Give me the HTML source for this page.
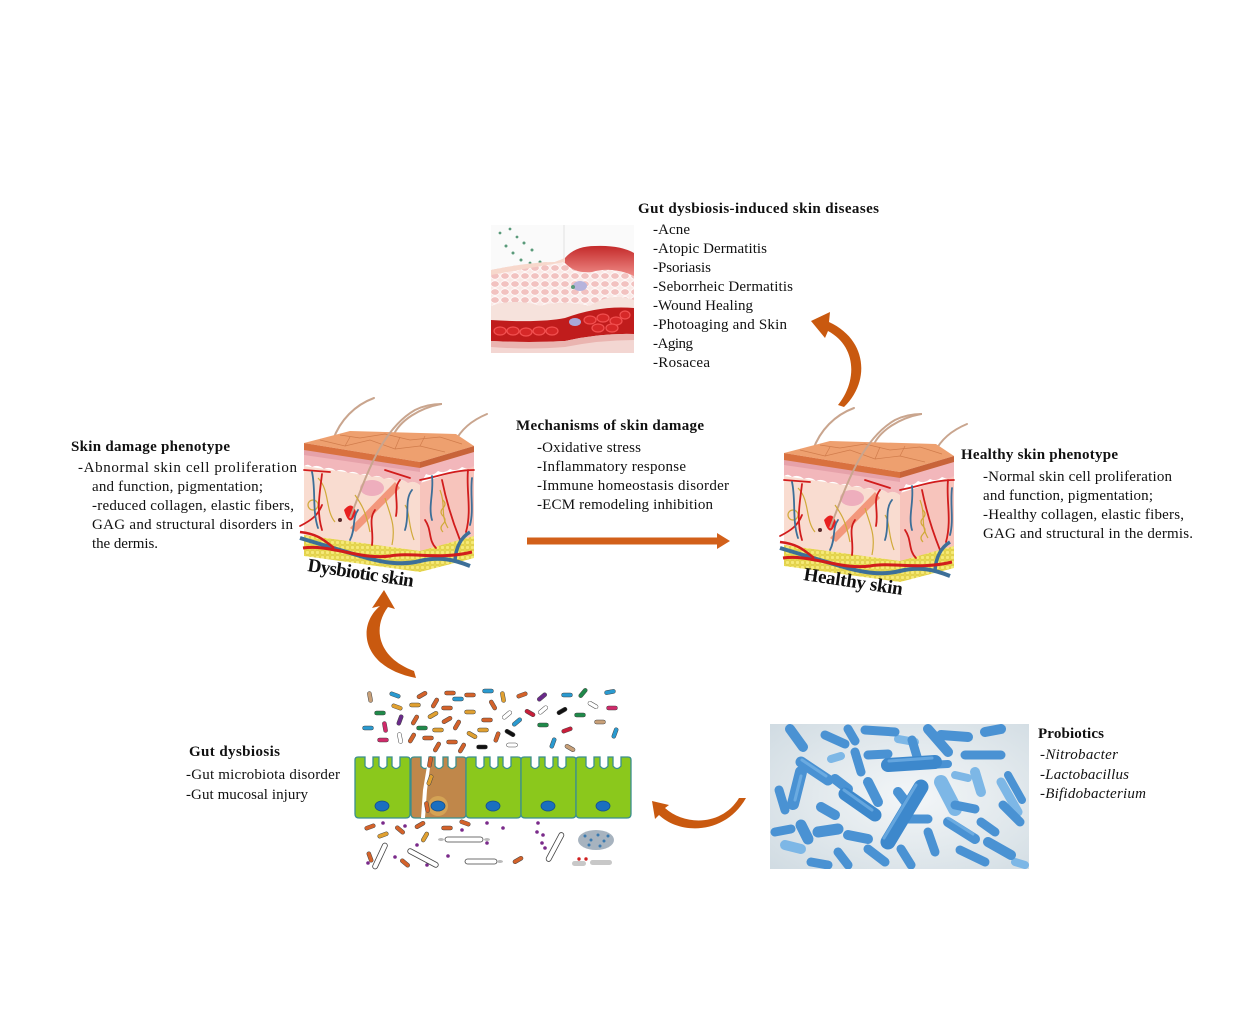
<!DOCTYPE html>
<html><head><meta charset="utf-8"><style>
html,body{margin:0;padding:0;background:#fff;}
svg{display:block;}
text{font-family:"Liberation Serif","Times New Roman",serif;fill:#111;}
.b{font-weight:bold;}
</style></head><body>
<svg width="1260" height="1032" viewBox="0 0 1260 1032" xmlns="http://www.w3.org/2000/svg">
<defs>
  <pattern id="cells" width="10" height="8" patternUnits="userSpaceOnUse">
    <rect width="10" height="8" fill="#fbe9e6"/>
    <ellipse cx="5" cy="4" rx="4.3" ry="3.3" fill="#f2c2c0" stroke="#fff" stroke-width="0.8"/>
  </pattern>
  <pattern id="fat" width="5" height="5" patternUnits="userSpaceOnUse">
    <rect width="5" height="5" fill="#e8d850"/>
    <circle cx="2.5" cy="2.5" r="2" fill="#f6ea78" stroke="#d2c03a" stroke-width="0.4"/>
  </pattern>
  <radialGradient id="probg" cx="0.55" cy="0.5" r="0.75">
    <stop offset="0" stop-color="#f3f6f8"/>
    <stop offset="0.5" stop-color="#e2e9ed"/>
    <stop offset="1" stop-color="#d0dbe2"/>
  </radialGradient>
  <linearGradient id="lesion" x1="0" y1="0" x2="0" y2="1">
    <stop offset="0" stop-color="#c42a2a"/>
    <stop offset="1" stop-color="#ee8a86"/>
  </linearGradient>
  <clipPath id="topclip"><rect x="491" y="225" width="143" height="128"/></clipPath>
  <clipPath id="proclip"><rect x="770" y="724" width="259" height="145"/></clipPath>
  <path id="cell" d="M0,57 L0,3 Q0,0 3,0 L10,0 L10,9 Q14,14 18,9 L18,0 L24,0 L24,9 Q28,14 32,9 L32,0 L37,0 L37,9 Q41,14 45,9 L45,0 L52,0 Q55,0 55,3 L55,57 Q55,61 51,61 L4,61 Q0,61 0,57Z"/>

  <g id="skin">
    <g fill="none" stroke="#c9a58e" stroke-width="2" stroke-linecap="round">
      <path d="M333,440 C340,420 355,405 374,398"/>
      <path d="M393,436 C400,420 420,408 441,404"/>
      <path d="M455,442 C462,427 475,419 487,414"/>
    </g>
    <polygon points="304,466 420,483 420,553 304,537" fill="#f9dcd0"/>
    <polygon points="420,483 474,466 474,538 420,553" fill="#f7c4bc"/>
    <polygon points="304,535 420,551 420,572 304,556" fill="url(#fat)"/>
    <polygon points="420,551 474,536 474,558 420,572" fill="url(#fat)"/>
    <path d="M304,449 L420,467 L474,451 L474,466 Q468,470 462,467 Q456,472 450,469 Q444,474 438,471 Q432,477 426,474 L420,485 Q414,480 408,483 Q402,478 396,481 Q390,476 384,479 Q378,474 372,477 Q366,472 360,475 Q354,470 348,473 Q342,468 336,471 Q330,466 324,469 Q318,464 312,467 Q308,463 304,466 Z" fill="#f2b7bb"/>
    <polygon points="304,449 420,467 420,472 304,455" fill="#e6a2aa"/>
    <polygon points="304,443 350,431 456,434 474,446 420,462" fill="#eea06f"/>
    <polygon points="304,443 420,462 420,468 304,450" fill="#d9713f"/>
    <polygon points="420,462 474,446 474,452 420,468" fill="#c8643a"/>
    <g fill="none" stroke="#d07c4c" stroke-width="0.7">
      <path d="M320,440 L345,446 L370,440 L395,449 L420,446 L445,452"/>
      <path d="M340,435 L360,438 L385,434 L410,440 L440,437 L462,444"/>
      <path d="M345,446 L350,437 M395,449 L400,437 M420,446 L425,436"/>
    </g>
    <ellipse cx="372" cy="488" rx="12" ry="8" fill="#eeaebd"/>
    <path d="M350,528 L395,482 L400,488 L356,532 Z" fill="#f08060" opacity="0.75"/>
    <path d="M344,510 Q350,530 356,512 Q352,500 344,510Z" fill="#e82020"/>
    <circle cx="340" cy="520" r="2" fill="#5a2a2a"/>
    <path d="M350,518 C365,480 380,430 415,410 C425,405 435,404 442,404" fill="none" stroke="#c9a58e" stroke-width="2"/>
    <g fill="none" stroke="#d0aa3a" stroke-width="1.2">
      <path d="M318,478 C330,490 325,510 335,522"/>
      <path d="M355,495 C362,505 366,512 370,532"/>
      <path d="M385,498 C390,515 396,525 392,545"/>
      <path d="M440,490 C446,505 440,515 448,528"/>
      <path d="M405,505 C410,512 408,525 414,540"/>
      <circle cx="313" cy="505" r="5"/>
      <path d="M443,500 q4,4 0,8 q-4,4 0,8 q4,4 0,8 q-4,4 0,8"/>
    </g>
    <g fill="none" stroke="#d11c1c" stroke-width="1.8" stroke-linecap="round">
      <path d="M304,470 L330,472"/>
      <path d="M322,474 C320,492 316,510 322,530"/>
      <path d="M300,526 C312,520 318,515 322,505"/>
      <path d="M420,480 C440,476 455,470 474,470"/>
      <path d="M442,480 C446,500 452,520 460,540"/>
      <path d="M468,470 C466,490 472,510 466,532"/>
      <path d="M396,516 C399,500 392,490 400,480"/>
      <path d="M372,545 C374,530 368,520 375,510"/>
      <path d="M425,520 C432,530 428,540 436,548"/>
      <path d="M385,470 L410,478"/>
    </g>
    <g fill="none" stroke="#3d6f98" stroke-width="1.8" stroke-linecap="round">
      <path d="M312,472 C316,490 312,510 318,528"/>
      <path d="M405,530 C410,515 404,500 412,490"/>
      <path d="M432,476 C434,492 428,506 432,520"/>
      <path d="M472,478 C470,495 474,510 470,525"/>
      <path d="M350,540 C356,528 352,518 358,510"/>
    </g>
    <path d="M300,538 C320,544 340,550 360,556 C380,562 400,566 420,561 C440,556 455,560 470,566" fill="none" stroke="#3d6f98" stroke-width="4"/>
    <path d="M455,560 C456,548 460,538 470,532" fill="none" stroke="#3d6f98" stroke-width="3.5"/>
    <path d="M303,548 C330,544 360,560 390,556 C412,552 440,560 472,552" fill="none" stroke="#d11c1c" stroke-width="3"/>
    <path d="M300,532 C318,534 324,540 334,548" fill="none" stroke="#d11c1c" stroke-width="2.5"/>
  </g>
</defs>

<rect width="1260" height="1032" fill="#fff"/>

<!-- ============ TOP IMAGE ============ -->
<g clip-path="url(#topclip)">
  <rect x="491" y="225" width="143" height="128" fill="#fafafa"/>
  <line x1="564" y1="225" x2="564" y2="353" stroke="#e2e2e2" stroke-width="1"/>
  <g fill="#5a9a7a">
    <circle cx="500" cy="233" r="1.4"/><circle cx="510" cy="229" r="1.4"/><circle cx="517" cy="237" r="1.4"/>
    <circle cx="506" cy="246" r="1.5"/><circle cx="524" cy="243" r="1.5"/><circle cx="513" cy="253" r="1.5"/>
    <circle cx="532" cy="250" r="1.5"/><circle cx="521" cy="260" r="1.5"/><circle cx="540" cy="262" r="1.5"/>
    <circle cx="530" cy="263" r="1.4"/><circle cx="546" cy="269" r="1.4"/><circle cx="555" cy="272" r="1.4"/>
    <circle cx="549" cy="277" r="1.4"/><circle cx="537" cy="272" r="1.4"/><circle cx="560" cy="279" r="1.4"/>
  </g>
  <rect x="491" y="290" width="143" height="63" fill="#f3d6d2"/>
  <path d="M491,270 Q530,262 555,262 L565,258 Q575,248 590,248 Q615,245 634,255 L634,300 Q610,292 590,306 Q560,300 540,306 Q515,298 491,306 Z" fill="url(#cells)"/>
  <path d="M491,270 Q530,262 555,262 L565,258 L565,262 Q540,266 491,275 Z" fill="#f7d8cc"/>
  <path d="M565,258 Q575,246 595,246 Q620,245 634,253 L634,276 Q612,266 592,272 Q575,274 565,263 Z" fill="url(#lesion)"/>
  <ellipse cx="580" cy="286" rx="7" ry="5" fill="#b6b4dc"/>
  <circle cx="573" cy="287" r="2" fill="#5a9a7a"/>
  <path d="M491,306 Q515,298 540,306 Q560,300 590,306 Q610,292 634,300 L634,310 Q600,306 565,320 Q540,323 491,321 Z" fill="#f6e2dc"/>
  <path d="M491,320 Q540,323 565,318 Q600,305 634,308 L634,334 Q600,333 565,341 Q530,343 491,341 Z" fill="#c01c1c"/>
  <g fill="#d62828" stroke="#f25050" stroke-width="1.2">
    <ellipse cx="500" cy="331" rx="6" ry="4"/><ellipse cx="513" cy="331" rx="6" ry="4"/>
    <ellipse cx="526" cy="332" rx="6" ry="4"/><ellipse cx="539" cy="331" rx="6" ry="4"/>
    <ellipse cx="552" cy="331" rx="6" ry="4"/><ellipse cx="590" cy="320" rx="6" ry="4"/>
    <ellipse cx="603" cy="318" rx="6" ry="4"/><ellipse cx="616" cy="321" rx="6" ry="4"/>
    <ellipse cx="625" cy="315" rx="5" ry="4"/><ellipse cx="598" cy="328" rx="6" ry="4"/>
    <ellipse cx="612" cy="328" rx="6" ry="4"/>
  </g>
  <ellipse cx="575" cy="322" rx="6" ry="4" fill="#a8a8d8"/>
  <path d="M491,341 Q530,343 565,341 Q600,333 634,334 L634,340 Q600,340 565,347 Q530,350 491,347Z" fill="#eab4b0"/>
</g>

<text class="b" x="638" y="213" font-size="15" textLength="241" lengthAdjust="spacing">Gut dysbiosis-induced skin diseases</text>
<g font-size="15">
<text x="653" y="234" textLength="37" lengthAdjust="spacing">-Acne</text>
<text x="653" y="253" textLength="114" lengthAdjust="spacing">-Atopic Dermatitis</text>
<text x="653" y="272" textLength="58" lengthAdjust="spacing">-Psoriasis</text>
<text x="653" y="291" textLength="140" lengthAdjust="spacing">-Seborrheic Dermatitis</text>
<text x="653" y="310" textLength="100" lengthAdjust="spacing">-Wound Healing</text>
<text x="653" y="329" textLength="134" lengthAdjust="spacing">-Photoaging and Skin</text>
<text x="653" y="348" textLength="40" lengthAdjust="spacing">-Aging</text>
<text x="653" y="367" textLength="57" lengthAdjust="spacing">-Rosacea</text>
</g>

<path d="M811,321 L830,312 L829,322 C868,340 870,382 844,407 L838,405 C858,380 856,346 828,331 L825,338 Z" fill="#c9590f"/>

<use href="#skin"/>
<use href="#skin" transform="translate(480,10)"/>

<text class="b" x="307" y="571" font-size="19" transform="rotate(8.5 307 571)" textLength="107" lengthAdjust="spacing">Dysbiotic skin</text>
<text class="b" x="803" y="580" font-size="19" transform="rotate(8.6 803 580)" textLength="100" lengthAdjust="spacing">Healthy skin</text>

<text class="b" x="71" y="451" font-size="15" textLength="159" lengthAdjust="spacing">Skin damage phenotype</text>
<g font-size="15">
<text x="78" y="472" textLength="219" lengthAdjust="spacing">-Abnormal skin cell proliferation</text>
<text x="92" y="491" textLength="171" lengthAdjust="spacing">and function, pigmentation;</text>
<text x="92" y="510" textLength="202" lengthAdjust="spacing">-reduced collagen, elastic fibers,</text>
<text x="92" y="529" textLength="201" lengthAdjust="spacing">GAG and structural disorders in</text>
<text x="92" y="548" textLength="66" lengthAdjust="spacing">the dermis.</text>
</g>

<text class="b" x="516" y="430" font-size="15" textLength="188" lengthAdjust="spacing">Mechanisms of skin damage</text>
<g font-size="15">
<text x="537" y="452" textLength="104" lengthAdjust="spacing">-Oxidative stress</text>
<text x="537" y="471" textLength="149" lengthAdjust="spacing">-Inflammatory response</text>
<text x="537" y="490" textLength="192" lengthAdjust="spacing">-Immune homeostasis disorder</text>
<text x="537" y="509" textLength="176" lengthAdjust="spacing">-ECM remodeling inhibition</text>
</g>
<path d="M527,537.5 L717,537.5 L717,533 L730,541 L717,549 L717,544.5 L527,544.5 Z" fill="#d2601a"/>

<text class="b" x="961" y="459" font-size="15" textLength="157" lengthAdjust="spacing">Healthy skin phenotype</text>
<g font-size="15">
<text x="983" y="481" textLength="189" lengthAdjust="spacing">-Normal skin cell proliferation</text>
<text x="983" y="500" textLength="170" lengthAdjust="spacing">and function, pigmentation;</text>
<text x="983" y="519" textLength="201" lengthAdjust="spacing">-Healthy collagen, elastic fibers,</text>
<text x="983" y="538" textLength="210" lengthAdjust="spacing">GAG and structural in the dermis.</text>
</g>

<path d="M384,590 L395,609 L388,607 C372,628 378,658 414,671 L416,678 C362,668 356,626 380,606 L372,608 Z" fill="#c9590f"/>

<!-- ============ GUT ============ -->
<text class="b" x="189" y="756" font-size="15" textLength="91" lengthAdjust="spacing">Gut dysbiosis</text>
<g font-size="15">
<text x="186" y="779" textLength="154" lengthAdjust="spacing">-Gut microbiota disorder</text>
<text x="186" y="799" textLength="122" lengthAdjust="spacing">-Gut mucosal injury</text>
</g>

<g stroke="#3b8f8f" stroke-width="1.3">
  <use href="#cell" transform="translate(355,757)" fill="#8bc81c"/>
  <use href="#cell" transform="translate(411,757)" fill="#c0874a"/>
  <use href="#cell" transform="translate(466,757)" fill="#8bc81c"/>
  <use href="#cell" transform="translate(521,757)" fill="#8bc81c"/>
  <use href="#cell" transform="translate(576,757)" fill="#8bc81c"/>
</g>
<circle cx="438" cy="806" r="10" fill="#e8c060" opacity="0.5"/>
<polygon points="428,760 431,760 427,790 425,818 421,818 423,790" fill="#fff"/>
<g fill="#1a6fc0" stroke="#134f8c" stroke-width="0.8">
  <ellipse cx="382" cy="806" rx="7" ry="5"/><ellipse cx="438" cy="806" rx="7" ry="5"/>
  <ellipse cx="493" cy="806" rx="7" ry="5"/><ellipse cx="548" cy="806" rx="7" ry="5"/>
  <ellipse cx="603" cy="806" rx="7" ry="5"/>
</g>

<g stroke="#444" stroke-width="0.5">
<rect x="-5.5" y="-2" width="11" height="4" rx="2" fill="#c8a078" transform="translate(370,697) rotate(80)"/>
<rect x="-5.5" y="-2" width="11" height="4" rx="2" fill="#2a9ad0" transform="translate(395,695) rotate(20)"/>
<rect x="-5.5" y="-2" width="11" height="4" rx="2" fill="#d4622a" transform="translate(422,695) rotate(-30)"/>
<rect x="-5.5" y="-2" width="11" height="4" rx="2" fill="#d4622a" transform="translate(450,693)"/>
<rect x="-5.5" y="-2" width="11" height="4" rx="2" fill="#d4622a" transform="translate(470,695)"/>
<rect x="-5.5" y="-2" width="11" height="4" rx="2" fill="#2a9ad0" transform="translate(488,691)"/>
<rect x="-5.5" y="-2" width="11" height="4" rx="2" fill="#e0a030" transform="translate(503,697) rotate(80)"/>
<rect x="-5.5" y="-2" width="11" height="4" rx="2" fill="#d4622a" transform="translate(522,695) rotate(-20)"/>
<rect x="-5.5" y="-2" width="11" height="4" rx="2" fill="#6a2a8a" transform="translate(542,697) rotate(-40)"/>
<rect x="-5.5" y="-2" width="11" height="4" rx="2" fill="#2a9ad0" transform="translate(567,695)"/>
<rect x="-5.5" y="-2" width="11" height="4" rx="2" fill="#1f8a4a" transform="translate(583,693) rotate(-50)"/>
<rect x="-5.5" y="-2" width="11" height="4" rx="2" fill="#2a9ad0" transform="translate(610,692) rotate(-10)"/>
<rect x="-5.5" y="-2" width="11" height="4" rx="2" fill="#2a9ad0" transform="translate(458,699)"/>
<rect x="-5.5" y="-2" width="11" height="4" rx="2" fill="#e0a030" transform="translate(397,707) rotate(20)"/>
<rect x="-5.5" y="-2" width="11" height="4" rx="2" fill="#e0a030" transform="translate(415,705)"/>
<rect x="-5.5" y="-2" width="11" height="4" rx="2" fill="#d4622a" transform="translate(435,703) rotate(-60)"/>
<rect x="-5.5" y="-2" width="11" height="4" rx="2" fill="#d4622a" transform="translate(447,708)"/>
<rect x="-5.5" y="-2" width="11" height="4" rx="2" fill="#e0a030" transform="translate(470,712)"/>
<rect x="-5.5" y="-2" width="11" height="4" rx="2" fill="#d4622a" transform="translate(493,705) rotate(60)"/>
<rect x="-5.5" y="-2" width="11" height="4" rx="2" fill="#fff" transform="translate(507,715) rotate(-40)"/>
<rect x="-5.5" y="-2" width="11" height="4" rx="2" fill="#c81e3a" transform="translate(530,713) rotate(30)"/>
<rect x="-5.5" y="-2" width="11" height="4" rx="2" fill="#fff" transform="translate(543,710) rotate(-40)"/>
<rect x="-5.5" y="-2" width="11" height="4" rx="2" fill="#111" transform="translate(562,711) rotate(-30)"/>
<rect x="-5.5" y="-2" width="11" height="4" rx="2" fill="#1f8a4a" transform="translate(580,715)"/>
<rect x="-5.5" y="-2" width="11" height="4" rx="2" fill="#fff" transform="translate(593,705) rotate(30)"/>
<rect x="-5.5" y="-2" width="11" height="4" rx="2" fill="#d02a6a" transform="translate(612,708)"/>
<rect x="-5.5" y="-2" width="11" height="4" rx="2" fill="#1f8a4a" transform="translate(380,713)"/>
<rect x="-5.5" y="-2" width="11" height="4" rx="2" fill="#6a2a8a" transform="translate(400,720) rotate(-70)"/>
<rect x="-5.5" y="-2" width="11" height="4" rx="2" fill="#d02a6a" transform="translate(385,727) rotate(80)"/>
<rect x="-5.5" y="-2" width="11" height="4" rx="2" fill="#d4622a" transform="translate(415,720) rotate(-60)"/>
<rect x="-5.5" y="-2" width="11" height="4" rx="2" fill="#e0a030" transform="translate(433,715) rotate(-30)"/>
<rect x="-5.5" y="-2" width="11" height="4" rx="2" fill="#d4622a" transform="translate(447,720) rotate(-30)"/>
<rect x="-5.5" y="-2" width="11" height="4" rx="2" fill="#1f8a4a" transform="translate(422,728)"/>
<rect x="-5.5" y="-2" width="11" height="4" rx="2" fill="#e0a030" transform="translate(438,730)"/>
<rect x="-5.5" y="-2" width="11" height="4" rx="2" fill="#d4622a" transform="translate(457,725) rotate(-60)"/>
<rect x="-5.5" y="-2" width="11" height="4" rx="2" fill="#d4622a" transform="translate(487,720)"/>
<rect x="-5.5" y="-2" width="11" height="4" rx="2" fill="#e0a030" transform="translate(483,730)"/>
<rect x="-5.5" y="-2" width="11" height="4" rx="2" fill="#2a9ad0" transform="translate(517,722) rotate(-40)"/>
<rect x="-5.5" y="-2" width="11" height="4" rx="2" fill="#1f8a4a" transform="translate(543,725)"/>
<rect x="-5.5" y="-2" width="11" height="4" rx="2" fill="#c81e3a" transform="translate(567,730) rotate(-20)"/>
<rect x="-5.5" y="-2" width="11" height="4" rx="2" fill="#c8a078" transform="translate(600,722)"/>
<rect x="-5.5" y="-2" width="11" height="4" rx="2" fill="#2a9ad0" transform="translate(368,728)"/>
<rect x="-5.5" y="-2" width="11" height="4" rx="2" fill="#d02a6a" transform="translate(383,740)"/>
<rect x="-5.5" y="-2" width="11" height="4" rx="2" fill="#fff" transform="translate(400,738) rotate(80)"/>
<rect x="-5.5" y="-2" width="11" height="4" rx="2" fill="#d4622a" transform="translate(412,738) rotate(-60)"/>
<rect x="-5.5" y="-2" width="11" height="4" rx="2" fill="#d4622a" transform="translate(428,738)"/>
<rect x="-5.5" y="-2" width="11" height="4" rx="2" fill="#d4622a" transform="translate(437,747) rotate(-60)"/>
<rect x="-5.5" y="-2" width="11" height="4" rx="2" fill="#d4622a" transform="translate(452,742)"/>
<rect x="-5.5" y="-2" width="11" height="4" rx="2" fill="#d4622a" transform="translate(462,748) rotate(-60)"/>
<rect x="-5.5" y="-2" width="11" height="4" rx="2" fill="#e0a030" transform="translate(472,735) rotate(30)"/>
<rect x="-5.5" y="-2" width="11" height="4" rx="2" fill="#d4622a" transform="translate(497,737) rotate(-70)"/>
<rect x="-5.5" y="-2" width="11" height="4" rx="2" fill="#111" transform="translate(510,733) rotate(30)"/>
<rect x="-5.5" y="-2" width="11" height="4" rx="2" fill="#fff" transform="translate(512,745)"/>
<rect x="-5.5" y="-2" width="11" height="4" rx="2" fill="#111" transform="translate(482,747)"/>
<rect x="-5.5" y="-2" width="11" height="4" rx="2" fill="#2a9ad0" transform="translate(553,743) rotate(-70)"/>
<rect x="-5.5" y="-2" width="11" height="4" rx="2" fill="#c8a078" transform="translate(570,748) rotate(30)"/>
<rect x="-5.5" y="-2" width="11" height="4" rx="2" fill="#2a9ad0" transform="translate(615,733) rotate(-70)"/>
<rect x="-5.5" y="-2" width="11" height="4" rx="2" fill="#d4622a" transform="translate(430,762) rotate(-80)"/>
<rect x="-5.5" y="-2" width="11" height="4" rx="2" fill="#e0a030" transform="translate(430,780) rotate(-70)"/>
<rect x="-5.5" y="-2" width="11" height="4" rx="2" fill="#d4622a" transform="translate(427,807) rotate(80)"/>
<rect x="-5.5" y="-2" width="11" height="4" rx="2" fill="#d4622a" transform="translate(370,827) rotate(-20)"/>
<rect x="-5.5" y="-2" width="11" height="4" rx="2" fill="#e0a030" transform="translate(383,835) rotate(-20)"/>
<rect x="-5.5" y="-2" width="11" height="4" rx="2" fill="#d4622a" transform="translate(400,830) rotate(40)"/>
<rect x="-5.5" y="-2" width="11" height="4" rx="2" fill="#d4622a" transform="translate(420,825) rotate(-30)"/>
<rect x="-5.5" y="-2" width="11" height="4" rx="2" fill="#e0a030" transform="translate(425,837) rotate(-60)"/>
<rect x="-5.5" y="-2" width="11" height="4" rx="2" fill="#d4622a" transform="translate(447,828)"/>
<rect x="-5.5" y="-2" width="11" height="4" rx="2" fill="#d4622a" transform="translate(465,823) rotate(20)"/>
<rect x="-5.5" y="-2" width="11" height="4" rx="2" fill="#d4622a" transform="translate(370,857) rotate(70)"/>
<rect x="-5.5" y="-2" width="11" height="4" rx="2" fill="#d4622a" transform="translate(405,863) rotate(40)"/>
<rect x="-5.5" y="-2" width="11" height="4" rx="2" fill="#d4622a" transform="translate(518,860) rotate(-30)"/>
</g>
<g fill="#7a2a8a">
  <circle cx="383" cy="823" r="1.8"/><circle cx="405" cy="826" r="1.8"/><circle cx="417" cy="845" r="1.8"/>
  <circle cx="395" cy="857" r="1.8"/><circle cx="368" cy="863" r="1.8"/><circle cx="427" cy="865" r="1.8"/>
  <circle cx="448" cy="856" r="1.8"/><circle cx="487" cy="823" r="1.8"/><circle cx="503" cy="828" r="1.8"/>
  <circle cx="487" cy="843" r="1.8"/><circle cx="538" cy="823" r="1.8"/><circle cx="537" cy="832" r="1.8"/>
  <circle cx="543" cy="835" r="1.8"/><circle cx="542" cy="843" r="1.8"/><circle cx="545" cy="848" r="1.8"/>
  <circle cx="462" cy="830" r="1.8"/>
</g>
<g fill="#fff" stroke="#444" stroke-width="0.8" stroke-linecap="round">
  <rect x="445" y="837" width="38" height="5" rx="2.5"/>
  <ellipse cx="441" cy="839.5" rx="3" ry="1.5" fill="#bbb" stroke="none"/>
  <ellipse cx="487" cy="839.5" rx="3" ry="1.5" fill="#bbb" stroke="none"/>
  <rect x="465" y="859" width="32" height="5" rx="2.5"/>
  <ellipse cx="500" cy="861.5" rx="3" ry="1.5" fill="#bbb" stroke="none"/>
  <rect x="-14" y="-2.5" width="28" height="5" rx="2.5" transform="translate(380,856) rotate(-65)"/>
  <rect x="-17" y="-2.5" width="34" height="5" rx="2.5" transform="translate(423,858) rotate(28)"/>
  <rect x="-16" y="-2.5" width="32" height="5" rx="2.5" transform="translate(555,847) rotate(-62)"/>
</g>
<ellipse cx="596" cy="840" rx="18" ry="10" fill="#8a9aaa" opacity="0.75"/>
<g fill="#3a7ab0">
  <circle cx="585" cy="836" r="1.5"/><circle cx="591" cy="840" r="1.5"/><circle cx="598" cy="835" r="1.5"/>
  <circle cx="604" cy="841" r="1.5"/><circle cx="589" cy="845" r="1.5"/><circle cx="600" cy="846" r="1.5"/>
  <circle cx="608" cy="836" r="1.5"/>
</g>
<circle cx="579" cy="859" r="1.7" fill="#d02020"/><circle cx="586" cy="859" r="1.7" fill="#d02020"/>
<rect x="572" y="861" width="14" height="5" rx="2.5" fill="#c8c8c8"/>
<rect x="590" y="860" width="22" height="5" rx="2.5" fill="#c8c8c8"/>

<path d="M652,801 L669,805 L665,808 C685,826 722,826 739,798 L746,798 C725,835 680,835 659,815 L655,819 Z" fill="#c9590f"/>

<!-- ============ PROBIOTICS ============ -->
<g clip-path="url(#proclip)">
  <rect x="770" y="724" width="259" height="145" fill="url(#probg)"/>
  <g fill="none" stroke-linecap="round">
    <!-- back layer lighter rods -->
    <g stroke="#7db7e6">
      <line x1="941" y1="782" x2="955" y2="809" stroke-width="14"/>
      <line x1="1001" y1="782" x2="1018" y2="812" stroke-width="9"/>
      <line x1="975" y1="772" x2="981" y2="792" stroke-width="10"/>
      <line x1="785" y1="845" x2="801" y2="849" stroke-width="10"/>
      <line x1="1015" y1="862" x2="1025" y2="865" stroke-width="8"/>
      <line x1="831" y1="759" x2="841" y2="756" stroke-width="8"/>
      <line x1="955" y1="775" x2="968" y2="778" stroke-width="8"/>
      <line x1="898" y1="739" x2="915" y2="742" stroke-width="8"/>
    </g>
    <g stroke="#4a92d3">
      <line x1="790" y1="729" x2="803" y2="747" stroke-width="10"/>
      <line x1="825" y1="735" x2="845" y2="744" stroke-width="9"/>
      <line x1="848" y1="729" x2="855" y2="741" stroke-width="9"/>
      <line x1="865" y1="730" x2="895" y2="732" stroke-width="9"/>
      <line x1="928" y1="729" x2="948" y2="752" stroke-width="10"/>
      <line x1="941" y1="735" x2="968" y2="737" stroke-width="10"/>
      <line x1="985" y1="732" x2="1001" y2="729" stroke-width="10"/>
      <line x1="801" y1="762" x2="828" y2="780" stroke-width="11"/>
      <line x1="801" y1="772" x2="793" y2="804" stroke-width="12"/>
      <line x1="821" y1="807" x2="835" y2="815" stroke-width="10"/>
      <line x1="855" y1="752" x2="861" y2="772" stroke-width="9"/>
      <line x1="868" y1="755" x2="888" y2="754" stroke-width="9"/>
      <line x1="928" y1="765" x2="948" y2="764" stroke-width="8"/>
      <line x1="965" y1="755" x2="1001" y2="755" stroke-width="9"/>
      <line x1="955" y1="805" x2="975" y2="809" stroke-width="9"/>
      <line x1="948" y1="822" x2="975" y2="839" stroke-width="10"/>
      <line x1="981" y1="822" x2="995" y2="832" stroke-width="9"/>
      <line x1="988" y1="842" x2="1011" y2="855" stroke-width="10"/>
      <line x1="928" y1="832" x2="935" y2="852" stroke-width="9"/>
      <line x1="901" y1="849" x2="911" y2="865" stroke-width="9"/>
      <line x1="868" y1="849" x2="885" y2="862" stroke-width="9"/>
      <line x1="838" y1="852" x2="848" y2="865" stroke-width="9"/>
      <line x1="801" y1="825" x2="808" y2="839" stroke-width="11"/>
      <line x1="818" y1="832" x2="838" y2="829" stroke-width="11"/>
      <line x1="775" y1="832" x2="791" y2="829" stroke-width="9"/>
      <line x1="848" y1="835" x2="868" y2="839" stroke-width="10"/>
      <line x1="811" y1="862" x2="828" y2="865" stroke-width="9"/>
      <line x1="835" y1="779" x2="848" y2="789" stroke-width="10"/>
      <line x1="898" y1="792" x2="908" y2="805" stroke-width="10"/>
      <line x1="908" y1="819" x2="928" y2="819" stroke-width="9"/>
      <line x1="868" y1="782" x2="878" y2="802" stroke-width="10"/>
      <line x1="1008" y1="775" x2="1022" y2="800" stroke-width="8"/>
      <line x1="960" y1="850" x2="985" y2="862" stroke-width="9"/>
      <line x1="779" y1="790" x2="785" y2="810" stroke-width="9"/>
      <line x1="912" y1="740" x2="918" y2="760" stroke-width="9"/>
      <line x1="1003" y1="805" x2="1020" y2="822" stroke-width="9"/>
    </g>
    <g stroke="#3d88cc">
      <line x1="845" y1="794" x2="875" y2="815" stroke-width="13"/>
      <line x1="888" y1="765" x2="935" y2="762" stroke-width="14"/>
      <line x1="888" y1="842" x2="921" y2="787" stroke-width="15"/>
    </g>
    <g stroke="#86c0ee" stroke-width="3" opacity="0.55">
      <line x1="889" y1="761" x2="932" y2="758"/>
      <line x1="884" y1="838" x2="916" y2="785"/>
      <line x1="844" y1="790" x2="872" y2="810"/>
      <line x1="801" y1="776" x2="795" y2="800"/>
      <line x1="802" y1="760" x2="826" y2="776"/>
      <line x1="948" y1="818" x2="973" y2="834"/>
    </g>
  </g>
</g>

<text class="b" x="1038" y="738" font-size="15" textLength="66" lengthAdjust="spacing">Probiotics</text>
<g font-size="15" font-style="italic">
<text x="1040" y="759" textLength="78" lengthAdjust="spacing">-Nitrobacter</text>
<text x="1040" y="779" textLength="89" lengthAdjust="spacing">-Lactobacillus</text>
<text x="1040" y="798" textLength="106" lengthAdjust="spacing">-Bifidobacterium</text>
</g>
</svg>
</body></html>
